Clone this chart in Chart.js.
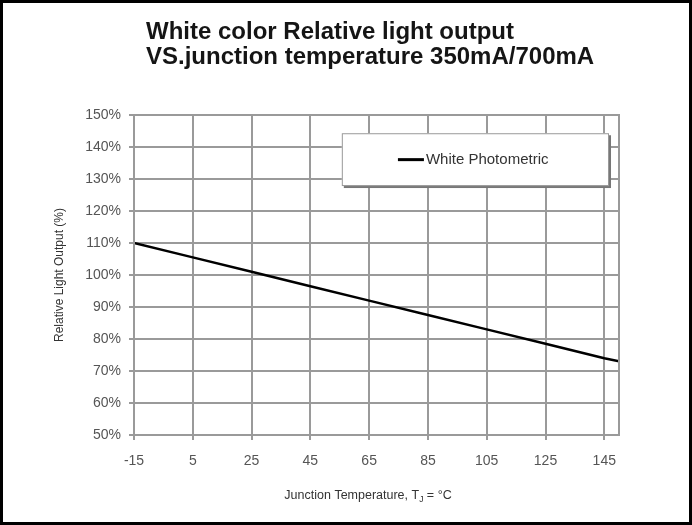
<!DOCTYPE html>
<html>
<head>
<meta charset="utf-8">
<script src="https://cdn.jsdelivr.net/npm/chart.js@4.4.0/dist/chart.umd.min.js"></script>
<style>
html,body{margin:0;padding:0;background:#fff;}
#wrap{width:692px;height:525px;position:relative;}
</style>
</head>
<body>
<div id="wrap"><canvas id="myChart"></canvas></div>
<script>
const title_lines = ['White color Relative light output','VS.junction temperature 350mA/700mA']
const series_name = 'White Photometric'
const temp_x = [-15, 5, 25, 45, 65, 85, 105, 125, 145, 150]
const light_y = [110, 105.5, 101, 96.5, 92, 87.5, 83, 78.5, 74, 73]
const x_ticks = [-15, 5, 25, 45, 65, 85, 105, 125, 145]
const y_ticks = [50, 60, 70, 80, 90, 100, 110, 120, 130, 140, 150]
const y_title = 'Relative Light Output (%)'
const x_title = ['Junction Temperature, T', 'J', ' = °C']

const FONT = '"Liberation Sans", Arial, sans-serif'
const GRID = '#9a9a9a'

//タイトル・枠・凡例・X軸タイトル
const deco = {
  id:'deco',
  afterDraw(chart){
    const {ctx, chartArea:a, scales:{x,y}} = chart
    ctx.save()
    //外枠
    ctx.strokeStyle = '#000'
    ctx.lineWidth = 3
    ctx.strokeRect(1.5, 1.5, chart.width-3, chart.height-3)
    //プロット枠
    ctx.strokeStyle = GRID
    ctx.lineWidth = 2
    ctx.strokeRect(a.left, a.top, a.right-a.left, a.bottom-a.top)

    //タイトル
    ctx.fillStyle = '#151515'
    ctx.font = 'bold 24px ' + FONT
    ctx.textAlign = 'left'
    ctx.textBaseline = 'alphabetic'
    title_lines.forEach((s,i)=>{ ctx.fillText(s, 146, 39 + i*25) })

    //凡例
    const l = x.getPixelForValue(55.7), r = x.getPixelForValue(146.6)
    const t = y.getPixelForValue(144.3), b = y.getPixelForValue(127.8)
    ctx.fillStyle = '#777'
    ctx.fillRect(l+2, t+2, r-l, b-t)
    ctx.fillStyle = '#fff'
    ctx.fillRect(l, t, r-l, b-t)
    ctx.strokeStyle = '#999'
    ctx.lineWidth = 1
    ctx.strokeRect(l+0.5, t+0.5, r-l-1, b-t-1)
    const my = (t+b)/2
    const sx = l + (r-l)*0.21
    ctx.strokeStyle = '#000'
    ctx.lineWidth = 3
    ctx.beginPath(); ctx.moveTo(sx, my); ctx.lineTo(sx+26, my); ctx.stroke()
    ctx.fillStyle = '#333'
    ctx.font = '15px ' + FONT
    ctx.textBaseline = 'middle'
    ctx.fillText(series_name, sx+28, my)

    //X軸タイトル (T_J 添字)
    ctx.font = '12.5px ' + FONT
    const w0 = ctx.measureText(x_title[0]).width
    ctx.font = '8.5px ' + FONT
    const w1 = ctx.measureText(x_title[1]).width
    ctx.font = '12.5px ' + FONT
    const w2 = ctx.measureText(x_title[2]).width
    let tx = 368 - (w0+w1+w2)/2
    const ty = 499
    ctx.textBaseline = 'alphabetic'
    ctx.fillText(x_title[0], tx, ty)
    ctx.font = '8.5px ' + FONT
    ctx.fillText(x_title[1], tx+w0, ty+3)
    ctx.font = '12.5px ' + FONT
    ctx.fillText(x_title[2], tx+w0+w1, ty)
    ctx.restore()
  }
}

const create_graph = (ctx) => {
  return new Chart(ctx, {
    type:'scatter',
    data:{
      datasets:[{
        label:series_name,
        data:temp_x.map((v,i)=>({x:v, y:light_y[i]})),
        showLine:true,
        borderColor:'#000',
        borderWidth:2.5,
        pointRadius:0,
        tension:0,
      }]
    },
    options:{
      responsive:false,
      animation:false,
      layout:{padding:{left:30, right:73, top:115, bottom:15}},
      plugins:{legend:{display:false}, tooltip:{enabled:false}},
      scales:{
        x:{
          type:'linear', min:-15, max:150,
          afterBuildTicks:(s)=>{ s.ticks = x_ticks.map(v=>({value:v})) },
          afterFit:(s)=>{ s.height = 75 },
          grid:{color:GRID, lineWidth:2, tickLength:5},
          border:{color:GRID, width:2},
          ticks:{autoSkip:false, maxRotation:0, padding:13, color:'#555', font:{family:FONT, size:14}},
        },
        y:{
          min:50, max:150,
          afterBuildTicks:(s)=>{ s.ticks = y_ticks.map(v=>({value:v})) },
          afterFit:(s)=>{ s.width = 104 },
          grid:{color:GRID, lineWidth:2, tickLength:5},
          border:{color:GRID, width:2},
          title:{display:true, text:y_title, color:'#333', font:{family:FONT, size:12}, padding:{top:22, bottom:0}},
          ticks:{padding:8, color:'#555', font:{family:FONT, size:14}, callback:(v)=>v+'%'},
        }
      }
    },
    plugins:[deco]
  })
}

const cv = document.getElementById('myChart')
cv.width = 692
cv.height = 525
create_graph(cv)
</script>
</body>
</html>
